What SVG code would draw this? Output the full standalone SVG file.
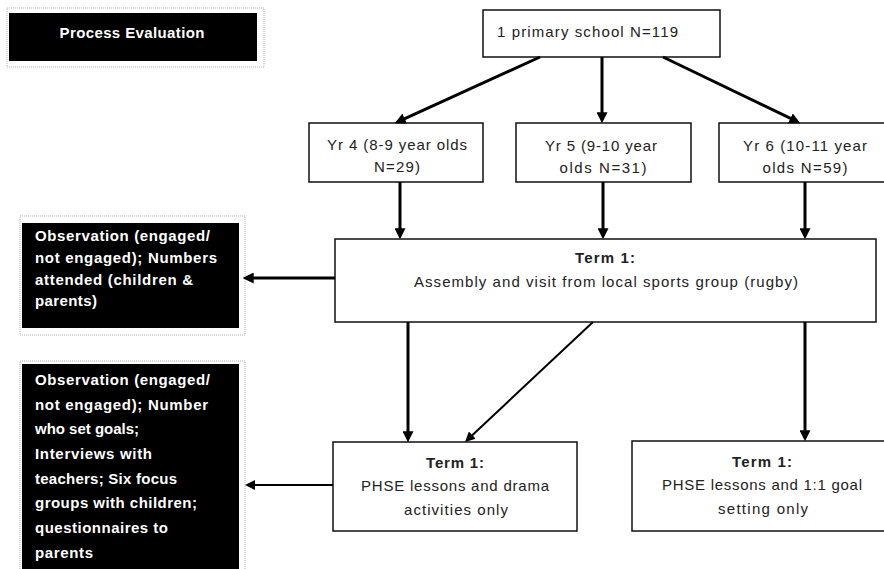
<svg xmlns="http://www.w3.org/2000/svg" width="884" height="569" viewBox="0 0 884 569">
<style>
.box{fill:#fff;stroke:#111;stroke-width:1.5}
.blk{fill:#000}
.dot{fill:none;stroke:#b0b0b0;stroke-width:1;stroke-dasharray:1 1}
.t{font-family:"Liberation Sans",Arial,sans-serif;font-size:15px;fill:#222}
.b{font-weight:bold}
.w{font-family:"Liberation Sans",Arial,sans-serif;font-size:15px;font-weight:bold;fill:#fff}
.c{text-anchor:middle}
.ln{stroke:#000;fill:none;stroke-width:3;marker-end:url(#ah)}
.ln2{stroke:#000;fill:none;stroke-width:2;marker-end:url(#ah2)}
</style>
<defs>
<marker id="ah" viewBox="0 0 10 10" refX="7" refY="5" markerWidth="11" markerHeight="11" markerUnits="userSpaceOnUse" orient="auto"><path d="M0,0 L10,5 L0,10 z" fill="#000"/></marker>
<marker id="ah2" viewBox="0 0 10 10" refX="7" refY="5" markerWidth="10" markerHeight="10" markerUnits="userSpaceOnUse" orient="auto"><path d="M0,0 L10,5 L0,10 z" fill="#000"/></marker>
</defs>
<rect width="884" height="569" fill="#fff"/>

<g id="process-evaluation">
<rect class="dot" x="7" y="8" width="257" height="59"/>
<rect class="blk" x="9" y="13" width="248" height="48"/>
<text class="w c" x="132" y="38" textLength="145" lengthAdjust="spacing">Process Evaluation</text>
</g>

<g id="school">
<rect class="box" x="483" y="10" width="237" height="47"/>
<text class="t" x="497" y="37" textLength="181" lengthAdjust="spacing">1 primary school N=119</text>
</g>

<g id="yr4">
<rect class="box" x="309" y="123" width="174" height="59"/>
<text class="t c" x="397" y="150" textLength="140" lengthAdjust="spacing">Yr 4 (8-9 year olds</text>
<text class="t c" x="397" y="172" textLength="46" lengthAdjust="spacing">N=29)</text>
</g>

<g id="yr5">
<rect class="box" x="516" y="123" width="175" height="59"/>
<text class="t c" x="601" y="151" textLength="112" lengthAdjust="spacing">Yr 5 (9-10 year</text>
<text class="t c" x="603" y="173" textLength="87" lengthAdjust="spacing">olds N=31)</text>
</g>

<g id="yr6">
<rect class="box" x="719" y="123" width="175" height="59"/>
<text class="t c" x="805" y="151" textLength="124" lengthAdjust="spacing">Yr 6 (10-11 year</text>
<text class="t c" x="805" y="173" textLength="85" lengthAdjust="spacing">olds N=59)</text>
</g>

<g id="term-assembly">
<rect class="box" x="335" y="239" width="541" height="83"/>
<text class="t b c" x="605" y="263" textLength="60" lengthAdjust="spacing">Term 1:</text>
<text class="t c" x="606" y="287" textLength="384" lengthAdjust="spacing">Assembly and visit from local sports group (rugby)</text>
</g>

<g id="eval-assembly">
<rect class="dot" x="20" y="216" width="225" height="119"/>
<rect class="blk" x="22" y="223" width="217" height="105"/>
<text class="w" x="35" y="241" textLength="175" lengthAdjust="spacing">Observation (engaged/</text>
<text class="w" x="35" y="263" textLength="182" lengthAdjust="spacing">not engaged); Numbers</text>
<text class="w" x="35" y="285" textLength="158" lengthAdjust="spacing">attended (children &amp;</text>
<text class="w" x="35" y="306" textLength="62" lengthAdjust="spacing">parents)</text>
</g>

<g id="phse-drama">
<rect class="box" x="333" y="442" width="244" height="89"/>
<text class="t b c" x="455" y="468" textLength="58" lengthAdjust="spacing">Term 1:</text>
<text class="t c" x="455" y="491" textLength="188" lengthAdjust="spacing">PHSE lessons and drama</text>
<text class="t c" x="456" y="515" textLength="104" lengthAdjust="spacing">activities only</text>
</g>

<g id="phse-goal">
<rect class="box" x="632" y="441" width="260" height="90"/>
<text class="t b c" x="762" y="467" textLength="60" lengthAdjust="spacing">Term 1:</text>
<text class="t c" x="762" y="490" textLength="200" lengthAdjust="spacing">PHSE lessons and 1:1 goal</text>
<text class="t c" x="763" y="514" textLength="90" lengthAdjust="spacing">setting only</text>
</g>

<g id="eval-phse">
<rect class="dot" x="20" y="361" width="225" height="215"/>
<rect class="blk" x="22" y="364" width="217" height="210"/>
<text class="w" x="35" y="385" textLength="175" lengthAdjust="spacing">Observation (engaged/</text>
<text class="w" x="35" y="410" textLength="173" lengthAdjust="spacing">not engaged); Number</text>
<text class="w" x="35" y="434" textLength="104" lengthAdjust="spacing">who set goals;</text>
<text class="w" x="35" y="459" textLength="117" lengthAdjust="spacing">Interviews with</text>
<text class="w" x="35" y="484" textLength="142" lengthAdjust="spacing">teachers; Six focus</text>
<text class="w" x="35" y="508" textLength="162" lengthAdjust="spacing">groups with children;</text>
<text class="w" x="35" y="533" textLength="133" lengthAdjust="spacing">questionnaires to</text>
<text class="w" x="35" y="558" textLength="58" lengthAdjust="spacing">parents</text>
</g>

<g id="connectors">
<line class="ln" x1="540" y1="57" x2="397.7" y2="121.8"/>
<line class="ln" x1="602" y1="57" x2="602" y2="120"/>
<line class="ln" x1="663" y1="57" x2="797.3" y2="121.7"/>
<line class="ln" x1="400" y1="182" x2="400" y2="236"/>
<line class="ln" x1="603" y1="182" x2="603" y2="236"/>
<line class="ln" x1="805" y1="182" x2="805" y2="236"/>
<line class="ln" x1="335" y1="278" x2="246" y2="278"/>
<line class="ln" x1="408" y1="322" x2="408" y2="439"/>
<line class="ln2" x1="593" y1="322" x2="467.2" y2="439.9"/>
<line class="ln" x1="805" y1="322" x2="805" y2="438"/>
<line class="ln2" x1="333" y1="485" x2="248" y2="485"/>
</g>
</svg>
